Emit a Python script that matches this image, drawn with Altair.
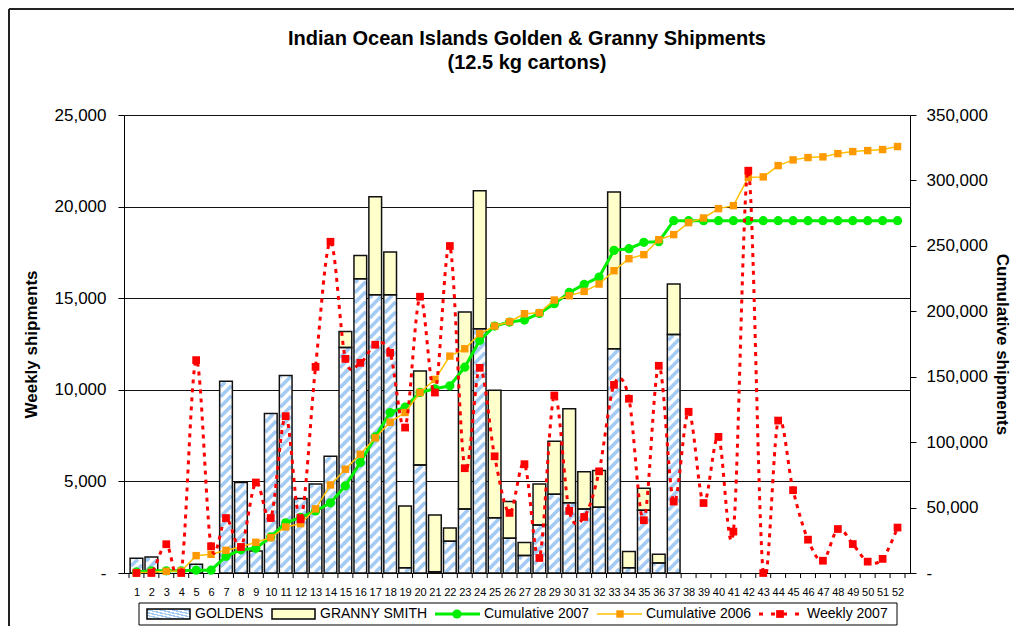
import altair as alt
import pandas as pd

# ---------------- data ----------------
weeks = list(range(1, 53))
goldens = [800, 870, 0, 0, 480, 0, 10470, 4935, 1200, 8705, 10780, 4060, 4860, 6375,
           12310, 16060, 15190, 15190, 290, 5900, 70, 1730, 3500, 13330, 3020, 1900,
           950, 2620, 4300, 3840, 3500, 3590, 12240, 290, 3420, 550, 13020] + [0] * 15
granny = [0] * 14 + [874, 1275, 5350, 2330, 3370, 5120, 3100, 730, 10740, 7540, 6960, 2000,
                     710, 2240, 2890, 5120, 2020, 2000, 8560, 890, 1200, 470, 2750] + [0] * 15
cum2007 = [800, 1670, 1670, 1670, 2150, 2150, 12750, 17700, 18900, 27600, 38400, 42450,
           47400, 53600, 66600, 84400, 104000, 122600, 126700, 137950, 140750, 143050,
           157300, 177700, 188700, 191750, 193300, 198400, 205750, 214400, 220550, 226150,
           246550, 247850, 252700, 253200, 269250] + [269250] * 15
cum2006 = [300, 600, 1300, 1500, 13260, 14280, 17340, 19890, 23460, 27030, 35190, 37740,
           49000, 67320, 79300, 90780, 103270, 115250, 122650, 137950, 147900, 165750,
           171360, 182830, 188700, 192000, 198130, 198900, 208600, 211900, 215200, 220800,
           231000, 240200, 243270, 254700, 258600, 267750, 271300, 278450, 280750, 302400,
           302700, 311350, 315700, 317500, 318000, 320500, 322050, 322800, 323600, 325900]
weekly2007 = [0, 0, 1570, 0, 11620, 1460, 3000, 1420, 4940, 3000,
              8560, 2930, 11250, 18080, 11690, 11470, 12460, 12020, 7940, 15080,
              9850, 17850, 5720, 11200, 6370, 3280, 5940, 820, 9690, 3390,
              3060, 5550, 10270, 9510, 2880, 11310, 3900, 8800, 3820, 7430,
              2260, 21960, 0, 8320, 4520, 1820, 670, 2400, 1580, 620, 770, 2480]
series_names = ["GOLDENS", "GRANNY SMITH", "Cumulative 2007", "Cumulative 2006", "Weekly 2007"]
title_lines = ["Indian Ocean Islands Golden & Granny Shipments", "(12.5 kg cartons)"]
left_ticks = [0, 5000, 10000, 15000, 20000, 25000]
right_ticks = [0, 50000, 100000, 150000, 200000, 250000, 300000, 350000]

# ---------------- layout constants ----------------
W, H = 786, 458
BAR = 12.7
PXW = W / 52.0
PXV = H / 25000.0
FONT = "Liberation Sans"
BLUE = "#a3cbf4"
YELLOW = "#ffffcc"
GREEN = "#00ee00"
ORANGE_L = "#ffc000"
ORANGE_M = "#ff9900"
RED = "#ff0000"

XS = alt.Scale(domain=[0.5, 52.5], nice=False, zero=False)
YL = alt.Scale(domain=[0, 25000], nice=False, zero=True)
YR = alt.Scale(domain=[0, 350000], nice=False, zero=True)

# ---------------- tables ----------------
rows = []
for w, g, s in zip(weeks, goldens, granny):
    if g > 0:
        rows.append({"week": w, "series": series_names[0], "y0": 0, "y1": g})
    if s > 0:
        rows.append({"week": w, "series": series_names[1], "y0": g, "y1": g + s})
bars_df = pd.DataFrame(rows)

# diagonal hatch segments clipped to each GOLDENS bar
P = 10.0
ins = 0.8
srows = []
for w, g in zip(weeks, goldens):
    if g <= 0:
        continue
    hpx = g * PXV
    if hpx < 2 * ins + 0.5:
        continue
    xl_px = (w - 0.5) * PXW - BAR / 2
    xl_w = w - (BAR / 2) / PXW
    phase = -(xl_px % P)
    c = phase - BAR - P
    while c < hpx + P:
        u_lo = max(ins, ins - c)
        u_hi = min(BAR - ins, hpx - ins - c)
        if u_hi - u_lo > 0.3:
            srows.append({"week": xl_w + u_lo / PXW, "y": (u_lo + c) / PXV,
                          "x2": xl_w + u_hi / PXW, "y2": (u_hi + c) / PXV})
        c += P
stripes_df = pd.DataFrame(srows)

lines_df = pd.DataFrame({"week": weeks, "cum2007": cum2007, "cum2006": cum2006,
                         "weekly": weekly2007})
tick_df = pd.DataFrame({"week": [k + 0.5 for k in range(0, 53)]})
one = pd.DataFrame({"a": [0]})

# ---------------- axes ----------------
x_axis = alt.Axis(values=weeks, title=None, ticks=False, grid=False,
                  labelFontSize=11, labelPadding=13, labelFlush=False,
                  domainColor="#000", labelColor="#000")
left_axis = alt.Axis(values=left_ticks, orient="left", title="Weekly shipments",
                     titleFontSize=17, titleFontWeight="bold", titleColor="#000",
                     titlePadding=14, labelFontSize=17, labelColor="#000",
                     labelPadding=12, tickSize=6, tickColor="#000", domainColor="#000",
                     grid=True, gridColor="#111", format=",.0f",
                     labelExpr="datum.value == 0 ? '-\u00a0\u00a0\u00a0\u00a0' : format(datum.value, ',.0f')")
right_axis = alt.Axis(values=right_ticks, orient="right", title="Cumulative shipments",
                      titleFontSize=17, titleFontWeight="bold", titleColor="#000",
                      titleAngle=90, titlePadding=5, labelFontSize=17, labelColor="#000",
                      labelPadding=10, tickSize=6, tickColor="#000", domainColor="#000",
                      grid=False, format=",.0f",
                      labelExpr="datum.value == 0 ? '\u00a0-' : format(datum.value, ',.0f')")


def X(field="week:Q"):
    return alt.X(field, scale=XS, axis=x_axis)


# ---------------- bars ----------------
bar_fill = alt.Chart(bars_df).mark_bar(size=BAR, strokeWidth=0).encode(
    x=X(),
    y=alt.Y("y0:Q", scale=YL, axis=left_axis),
    y2="y1:Q",
    fill=alt.Fill("series:N", scale=alt.Scale(domain=series_names[:2], range=["#ffffff", YELLOW]),
                  legend=None),
)
stripes = alt.Chart(stripes_df).mark_rule(color=BLUE, strokeWidth=3.6, strokeCap="butt").encode(
    x=X(),
    x2="x2:Q",
    y=alt.Y("y:Q", scale=YL, axis=None),
    y2="y2:Q",
)
bar_outline = alt.Chart(bars_df).mark_bar(size=BAR, fill="transparent", stroke="#111",
                                          strokeWidth=1.5).encode(
    x=X(),
    y=alt.Y("y0:Q", scale=YL, axis=None),
    y2="y1:Q",
)
ticks = alt.Chart(tick_df).mark_rule(color="#000", strokeWidth=1).encode(
    x=X(),
    y=alt.value(H),
    y2=alt.value(H + 5),
)

# ---------------- lines ----------------
base = alt.Chart(lines_df)
green_line = base.mark_line(color=GREEN, strokeWidth=3).encode(
    x=X(),
    y=alt.Y("cum2007:Q", scale=YR, axis=right_axis),
)
green_pts = base.mark_point(shape="circle", filled=True, size=85, color=GREEN, opacity=1).encode(
    x=X(),
    y=alt.Y("cum2007:Q", scale=YR, axis=None),
)
orange_line = base.mark_line(color=ORANGE_L, strokeWidth=1.5).encode(
    x=X(),
    y=alt.Y("cum2006:Q", scale=YR, axis=None),
)
orange_pts = base.mark_square(size=55, color=ORANGE_M, opacity=1).encode(
    x=X(),
    y=alt.Y("cum2006:Q", scale=YR, axis=None),
)
weekly_line = base.mark_line(color=RED, strokeWidth=3, strokeDash=[4, 5], interpolate="cardinal",
                             clip=True).encode(
    x=X(),
    y=alt.Y("weekly:Q", scale=YL, axis=None),
)
weekly_pts = base.mark_square(size=60, color=RED, opacity=1).encode(
    x=X(),
    y=alt.Y("weekly:Q", scale=YL, axis=None),
)

# ---------------- manual legend, title, frame ----------------
LY0, LY1 = 488, 510
LC = (LY0 + LY1) / 2


def prect(x1, x2, y1, y2, **kw):
    return alt.Chart(one).mark_rect(**kw).encode(
        x=alt.value(x1), x2=alt.value(x2), y=alt.value(y1), y2=alt.value(y2))


def prule(x1, x2, y1, y2, **kw):
    return alt.Chart(one).mark_rule(**kw).encode(
        x=alt.value(x1), x2=alt.value(x2), y=alt.value(y1), y2=alt.value(y2))


def ptext(x, y, t, size=14, bold=False, align="left", baseline="middle"):
    return alt.Chart(one).mark_text(align=align, baseline=baseline, fontSize=size,
                                    fontWeight="bold" if bold else "normal",
                                    font=FONT, color="#000").encode(
        x=alt.value(x), y=alt.value(y), text=alt.value(t))


stops = []
n = 7
for i in range(n):
    a = i / n
    b = (i + 0.5) / n
    stops += [alt.GradientStop(offset=a, color=BLUE), alt.GradientStop(offset=b, color=BLUE),
              alt.GradientStop(offset=b, color="#ffffff"),
              alt.GradientStop(offset=(i + 1) / n, color="#ffffff")]
hatch = alt.Gradient(gradient="linear", stops=stops, x1=0, y1=1, x2=1, y2=0)

decor = [
    prect(15, 773, LY0, LY1, fill="#ffffff", stroke="#000", strokeWidth=1),
    prect(23, 66, LC - 5, LC + 5, fill=hatch, stroke="#000", strokeWidth=1.5),
    ptext(71, LC, series_names[0]),
    prect(148, 191, LC - 5, LC + 5, fill=YELLOW, stroke="#000", strokeWidth=1.5),
    ptext(196, LC, series_names[1]),
    prule(311, 356, LC, LC, color=GREEN, strokeWidth=3),
    alt.Chart(one).mark_point(shape="circle", filled=True, size=85, color=GREEN, opacity=1).encode(
        x=alt.value(333), y=alt.value(LC)),
    ptext(360, LC, series_names[2]),
    prule(473, 518, LC, LC, color=ORANGE_L, strokeWidth=1.5),
    alt.Chart(one).mark_square(size=55, color=ORANGE_M, opacity=1).encode(
        x=alt.value(496), y=alt.value(LC)),
    ptext(522, LC, series_names[3]),
    prule(635, 676, LC, LC, color=RED, strokeWidth=3, strokeDash=[4, 8]),
    alt.Chart(one).mark_square(size=60, color=RED, opacity=1).encode(
        x=alt.value(656), y=alt.value(LC)),
    ptext(683, LC, series_names[4]),
    ptext(403, -70, title_lines[0], size=20, bold=True, align="center", baseline="alphabetic"),
    ptext(403, -46, title_lines[1], size=20, bold=True, align="center", baseline="alphabetic"),
    prule(-115, 1000, -106, -106, color="#222", strokeWidth=2),
    prule(-115, -115, -106, 600, color="#222", strokeWidth=2),
]

chart = alt.layer(
    bar_fill, stripes, bar_outline, ticks,
    green_line, green_pts, orange_line, orange_pts,
    weekly_line, weekly_pts, *decor
).resolve_scale(
    y="independent"
).properties(
    width=W,
    height=H,
    autosize=alt.AutoSizeParams(type="none"),
    padding={"left": 116, "top": 107, "right": 104, "bottom": 53},
).configure(font=FONT).configure_view(stroke=None)

chart.save("out.html", embed_options={"renderer": "svg", "actions": False})
